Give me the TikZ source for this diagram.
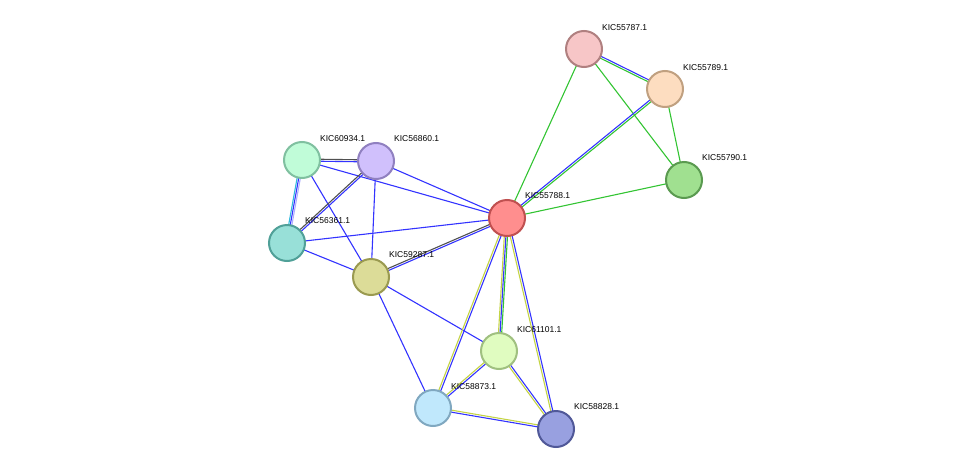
\documentclass[tikz,border=0pt]{standalone}
\usepackage{fontspec}
\setmainfont{Liberation Sans}
\usetikzlibrary{calc,backgrounds}
\definecolor{eb}{HTML}{3333FF}
\definecolor{eg}{HTML}{33C433}
\definecolor{ey}{HTML}{C4D444}
\definecolor{ek}{HTML}{505050}
\definecolor{ec}{HTML}{33BBDD}
\definecolor{fa}{HTML}{F7C6C7}\definecolor{da}{HTML}{B08080}
\definecolor{fb}{HTML}{FDDDC0}\definecolor{db}{HTML}{C0A080}
\definecolor{fc}{HTML}{A0E090}\definecolor{dc}{HTML}{5A9A50}
\definecolor{fr}{HTML}{FF8E8E}\definecolor{dr}{HTML}{C05050}
\definecolor{fm}{HTML}{C0FCD8}\definecolor{dm}{HTML}{80C0A0}
\definecolor{fl}{HTML}{D0C0FC}\definecolor{dl}{HTML}{9080C0}
\definecolor{ft}{HTML}{98E0D8}\definecolor{dt}{HTML}{50A098}
\definecolor{fo}{HTML}{DCDC98}\definecolor{do}{HTML}{9A9A50}
\definecolor{fy}{HTML}{E0FCC0}\definecolor{dy}{HTML}{A0C080}
\definecolor{fs}{HTML}{C0E8FC}\definecolor{ds}{HTML}{80A8C0}
\definecolor{fn}{HTML}{98A0E0}\definecolor{dn}{HTML}{505898}
\newcommand\ed[4]{\draw[#4,line width=1.1pt] ($(#1)!#3!90:(#2)$) -- ($(#2)!#3!-90:(#1)$);}
\begin{document}
\begin{tikzpicture}[x=1pt,y=-1pt,
  nd/.style args={#1/#2}{circle,minimum size=36pt,inner sep=0pt,fill=#1,draw=#2,line width=2pt},
  lb/.style={anchor=west,font=\fontsize{8.5}{10}\selectfont,inner sep=0pt}]
\useasboundingbox (0,0) rectangle (975,474);
\node[nd={fa/da}] (a) at (584,49) {};
\node[nd={fb/db}] (b) at (665,89) {};
\node[nd={fc/dc}] (c) at (684,180) {};
\node[nd={fr/dr}] (r) at (507,218) {};
\node[nd={fm/dm}] (m) at (302,160) {};
\node[nd={fl/dl}] (l) at (376,161) {};
\node[nd={ft/dt}] (t) at (287,243) {};
\node[nd={fo/do}] (o) at (371,277) {};
\node[nd={fy/dy}] (y) at (499,351) {};
\node[nd={fs/ds}] (s) at (433,408) {};
\node[nd={fn/dn}] (n) at (556,429) {};
\node[lb] (la) at (602,28) {KIC55787.1};
\node[lb] (lbb) at (683,68) {KIC55789.1};
\node[lb] (lc) at (702,158) {KIC55790.1};
\node[lb] (lr) at (525,196) {KIC55788.1};
\node[lb] (lm) at (320,139) {KIC60934.1};
\node[lb] (ll) at (394,139) {KIC56860.1};
\node[lb] (lt) at (305,221) {KIC56361.1};
\node[lb] (lo) at (389,255) {KIC59287.1};
\node[lb] (ly) at (517,330) {KIC61101.1};
\node[lb] (ls) at (451,387) {KIC58873.1};
\node[lb] (ln) at (574,407) {KIC58828.1};
\begin{scope}[on background layer]
\ed{m}{l}{-1pt}{eb}\ed{m}{l}{1pt}{ek}
\ed{m}{t}{-1.6pt}{ec}\ed{m}{t}{0pt}{eb}\ed{m}{t}{1.6pt}{eb!40}
\ed{m}{r}{0pt}{eb}
\ed{m}{o}{0pt}{eb}
\ed{l}{t}{-1pt}{ek}\ed{l}{t}{1pt}{eb}
\ed{l}{r}{0pt}{eb}
\ed{l}{o}{0pt}{eb}
\ed{t}{r}{0pt}{eb}
\ed{t}{o}{0pt}{eb}
\ed{o}{r}{-1pt}{eb}\ed{o}{r}{1pt}{ek}
\ed{o}{y}{0pt}{eb}
\ed{o}{s}{0pt}{eb}
\ed{r}{y}{-1.6pt}{ey}\ed{r}{y}{0pt}{eb}\ed{r}{y}{1.6pt}{eg}
\ed{r}{s}{-1pt}{ey}\ed{r}{s}{1pt}{eb}
\ed{r}{n}{-1pt}{ey}\ed{r}{n}{1pt}{eb}
\ed{y}{s}{-1pt}{ey}\ed{y}{s}{1pt}{eb}
\ed{y}{n}{-1pt}{ey}\ed{y}{n}{1pt}{eb}
\ed{s}{n}{1pt}{ey}\ed{s}{n}{-1pt}{eb}
\ed{a}{b}{-1pt}{eg}\ed{a}{b}{1pt}{eb}
\ed{a}{r}{0pt}{eg}
\ed{a}{c}{0pt}{eg}
\ed{b}{r}{-1pt}{eb}\ed{b}{r}{1pt}{eg}
\ed{b}{c}{0pt}{eg}
\ed{c}{r}{0pt}{eg}
\end{scope}
\end{tikzpicture}
\end{document}
